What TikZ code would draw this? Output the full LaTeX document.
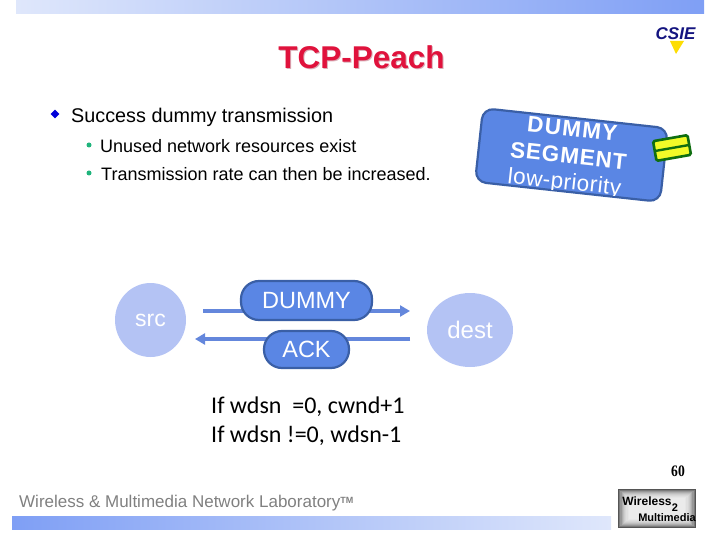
\documentclass[tikz,border=0pt]{standalone}
\usepackage{fontspec}
\setmainfont{Liberation Sans}
\newfontfamily\calfont{Carlito}
\newfontfamily\serfont{Liberation Serif}
\usetikzlibrary{arrows.meta,shapes.geometric}
\definecolor{barblue}{HTML}{7F9FF5}
\definecolor{barlight}{HTML}{DFE7FB}
\definecolor{boxblue}{HTML}{5A86E4}
\definecolor{boxedge}{HTML}{3A5FA6}
\definecolor{softblue}{HTML}{B4C3F4}
\definecolor{linkblue}{HTML}{6487DC}
\definecolor{titlered}{HTML}{E0123C}
\definecolor{bulletgreen}{HTML}{20B47C}
\definecolor{logonavy}{HTML}{14147F}
\definecolor{badgegreen}{HTML}{0F6E10}
\definecolor{badgeyellow}{HTML}{F2FA28}
\definecolor{footgray}{HTML}{808080}
\tikzset{
  x=1pt,y=-1pt,
  txt/.style={inner sep=0pt,anchor=west,text=black},
  pill/.style={draw=boxedge,line width=2.2pt,fill=boxblue,rounded corners=18pt,text=white,font=\fontsize{23.5}{26}\selectfont,inner sep=0pt},
  soft/.style={ellipse,fill=softblue,text=white,inner sep=0pt},
  link/.style={draw=linkblue,line width=3.5pt,-{Triangle[length=10pt,width=11pt]}},
}
\begin{document}
\begin{tikzpicture}
\useasboundingbox (0,0) rectangle (720,540);
\shade[left color=barlight,right color=barblue] (16,0) rectangle (704,14);
\shade[left color=barblue,right color=barlight] (12,516) rectangle (611,529);
% title
\node[inner sep=0pt,text=titlered!45!gray!45] at (362.5,58.5) {\fontsize{31.5}{34}\selectfont\bfseries TCP-Peach};
\node (title) [inner sep=0pt,text=titlered] at (361.5,57.5) {\fontsize{31.5}{34}\selectfont\bfseries TCP-Peach};
% bullets
\node (b1) [diamond,fill=blue!85!black,inner sep=0pt,minimum size=9pt] at (55,114) {};
\node (b2) [circle,fill=bulletgreen,inner sep=0pt,minimum size=5pt] at (89,145) {};
\node (b3) [circle,fill=bulletgreen,inner sep=0pt,minimum size=5pt] at (89,173) {};
\node (t1) [txt] at (71,117) {\fontsize{19.8}{22}\selectfont Success dummy transmission};
\node (t2) [txt] at (100,146) {\fontsize{18}{20}\selectfont Unused network resources exist};
\node (t3) [txt] at (101,174.5) {\fontsize{18}{20}\selectfont Transmission rate can then be increased.};
% network
\node (src) [soft,minimum width=71pt,minimum height=74pt] at (150.5,320) {\raisebox{-1pt}{\fontsize{23}{26}\selectfont src}};
\node (dest) [soft,minimum width=86pt,minimum height=74pt] at (470,330) {\raisebox{-1pt}{\fontsize{24}{26}\selectfont dest}};
\coordinate (ds) at (203,311);
\coordinate (de) at (410,311);
\coordinate (as) at (410,339);
\coordinate (ae) at (195,339);
\draw[link] (ds) -- (de);
\draw[link] (as) -- (ae);
\node (dummy) [pill,minimum width=131pt,minimum height=39pt] at (306.5,300.5) {DUMMY};
\node (ack) [pill,minimum width=85pt,minimum height=37pt] at (306.5,349.5) {ACK};
% notes
\node (if1) [txt] at (211,407) {\calfont\fontsize{24}{26}\selectfont If wdsn\ \ =0, cwnd+1};
\node (if2) [txt] at (211,436) {\calfont\fontsize{24}{26}\selectfont If wdsn !=0, wdsn-1};
% rotated segment
\begin{scope}[shift={(571.5,155)},rotate=-6.2,transform shape]
  \node (seg) [draw=boxedge,line width=2.2pt,fill=boxblue,rounded corners=11pt,minimum width=186pt,minimum height=74pt,inner sep=0pt] at (0,0) {};
  \begin{scope}
    \clip (-92,-36) rectangle (92,36);
    \node (s1) [inner sep=0pt,text=white] at (-2,-26) {\fontsize{22.5}{24}\selectfont\addfontfeature{LetterSpace=6}\bfseries DUMMY};
    \node (s2) [inner sep=0pt,text=white] at (-3,1) {\fontsize{22.5}{24}\selectfont\addfontfeature{LetterSpace=4}\bfseries SEGMENT};
    \node (s3) [inner sep=0pt,text=white] at (-4,29) {\fontsize{22.5}{24}\selectfont\addfontfeature{LetterSpace=2}low-priority};
  \end{scope}
\end{scope}
% equals badge
\begin{scope}[shift={(672,148)},rotate=10,transform shape]
  \node (eq) [draw=badgegreen,fill=badgeyellow,line width=2.6pt,rounded corners=1.5pt,minimum width=35pt,minimum height=20pt,inner sep=0pt] at (0,0) {};
  \fill[badgegreen] (-17.5,-1.2) rectangle (17.5,1.2);
\end{scope}
% CSIE logo
\fill[yellow!80!orange] (670,41) -- (684,41) -- (676,54) -- cycle;
\node (csie) [inner sep=0pt,text=logonavy] at (675.5,34) {\fontsize{17}{18}\selectfont\bfseries\itshape CSIE};
% page no
\node (page) [inner sep=0pt,xscale=.85] at (678,471) {\serfont\fontsize{16}{18}\selectfont\bfseries 60};
% footer
\node (foot) [txt,text=footgray] at (19,503.5) {\fontsize{17}{19}\selectfont Wireless \& Multimedia Network Laboratory\raisebox{.45ex}{\fontsize{9}{9}\selectfont\bfseries TM}};
% lab logo
\fill[black!85] (618,489) rectangle (696,528);
\foreach \i in {0,...,9}{
  \fill[white,opacity=.22] ({618+\i*1.2},{489+\i*1}) rectangle ({696-\i*1.2},{528-\i*1});
}
\node (w1) [inner sep=0pt,text=black] at (647,501) {\fontsize{12}{12}\selectfont\bfseries Wireless};
\node (w2) [inner sep=0pt,text=black] at (667,518) {\fontsize{11}{12}\selectfont\bfseries Multimedia};
\node (w3) [inner sep=0pt,text=black] at (675,507.5) {\fontsize{11}{11}\selectfont\bfseries 2};
\end{tikzpicture}
\end{document}
